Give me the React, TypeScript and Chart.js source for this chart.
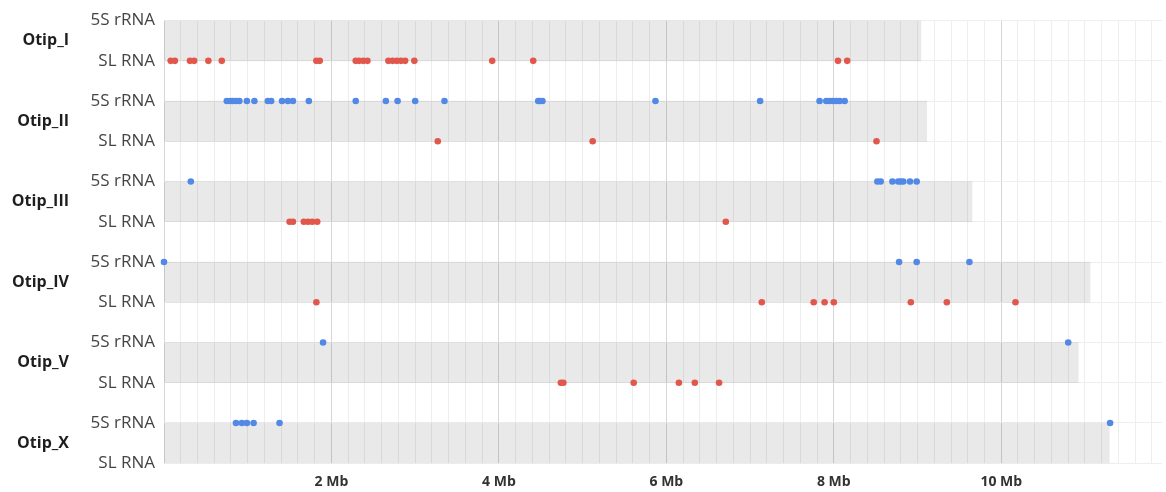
import React, { useEffect, useRef } from 'react';
import { Chart, registerables } from 'chart.js';

Chart.register(...registerables);

// ---- Data (positions in Mb) ----
const chromosomes = ['Otip_I', 'Otip_II', 'Otip_III', 'Otip_IV', 'Otip_V', 'Otip_X'];
const chromosomeLengthsMb = [9.04, 9.11, 9.65, 11.06, 10.92, 11.29];
const rowLabels = ['5S rRNA', 'SL RNA'];

const otipI_5S: number[] = [];
const otipI_SL = [0.08, 0.13, 0.31, 0.36, 0.53, 0.69, 1.82, 1.86, 2.29, 2.33, 2.38, 2.43, 2.68, 2.73, 2.78, 2.83, 2.88, 2.99, 3.92, 4.41, 8.05, 8.16];
const otipII_5S = [0.75, 0.79, 0.82, 0.86, 0.9, 0.99, 1.08, 1.24, 1.28, 1.41, 1.48, 1.54, 1.73, 2.29, 2.65, 2.79, 3.0, 3.35, 4.47, 4.49, 4.52, 5.87, 7.12, 7.83, 7.91, 7.95, 7.99, 8.03, 8.07, 8.13];
const otipII_SL = [3.27, 5.12, 8.51];
const otipIII_5S = [0.32, 8.52, 8.56, 8.7, 8.77, 8.8, 8.83, 8.91, 8.99];
const otipIII_SL = [1.5, 1.54, 1.67, 1.72, 1.77, 1.83, 6.71];
const otipIV_5S = [0.0, 8.78, 8.99, 9.62];
const otipIV_SL = [1.82, 7.14, 7.76, 7.89, 8.0, 8.92, 9.35, 10.17];
const otipV_5S = [1.9, 10.8];
const otipV_SL = [4.74, 4.77, 5.61, 6.15, 6.34, 6.63];
const otipX_5S = [0.86, 0.93, 0.99, 1.07, 1.38, 11.3];
const otipX_SL: number[] = [];

const sites5S = [otipI_5S, otipII_5S, otipIII_5S, otipIV_5S, otipV_5S, otipX_5S];
const sitesSL = [otipI_SL, otipII_SL, otipIII_SL, otipIV_SL, otipV_SL, otipX_SL];

const xMaxMb = 11.92;
const xMinorStepCount = 60; // gridlines every 0.2 Mb up to 11.8
const majorTicksMb = [2, 4, 6, 8, 10];
const xTickLabels = ['2 Mb', '4 Mb', '6 Mb', '8 Mb', '10 Mb'];

const FONT = "'Open Sans', 'DejaVu Sans', sans-serif";

export default function App() {
  const ref = useRef<HTMLCanvasElement | null>(null);

  useEffect(() => {
    if (!ref.current) return;
    const rowCount = chromosomes.length * 2;

    const bandData = chromosomeLengthsMb.map((len, i) => ({ x: [0, len], y: 2 * i + 0.5 }));
    const data5S = sites5S.flatMap((arr, i) => arr.map((v) => ({ x: v, y: 2 * i })));
    const dataSL = sitesSL.flatMap((arr, i) => arr.map((v) => ({ x: v, y: 2 * i + 1 })));

    const isMajor = (v: number) => Math.abs(v / 2 - Math.round(v / 2)) < 1e-6;

    const chart = new Chart(ref.current, {
      type: 'scatter',
      data: {
        datasets: [
          {
            type: 'bar',
            label: 'chromosome',
            indexAxis: 'y',
            data: bandData as any,
            backgroundColor: 'rgba(0,0,0,0.088)',
            borderWidth: 0,
            categoryPercentage: 1,
            barPercentage: 1,
            order: 3,
            xAxisID: 'x',
            yAxisID: 'y',
          } as any,
          {
            type: 'scatter',
            label: '5S rRNA',
            data: data5S,
            backgroundColor: '#5289e6',
            borderWidth: 0,
            pointRadius: 3.3,
            clip: false,
            order: 1,
            xAxisID: 'x',
            yAxisID: 'y',
          } as any,
          {
            type: 'scatter',
            label: 'SL RNA',
            data: dataSL,
            backgroundColor: '#e2574c',
            borderWidth: 0,
            pointRadius: 3.3,
            clip: false,
            order: 2,
            xAxisID: 'x',
            yAxisID: 'y',
          } as any,
        ],
      },
      options: {
        animation: false,
        responsive: false,
        devicePixelRatio: 1,
        layout: { padding: { top: 16, bottom: 0, right: 1, left: 0 } },
        plugins: { legend: { display: false }, tooltip: { enabled: false } },
        scales: {
          x: {
            type: 'linear',
            min: 0,
            max: xMaxMb,
            offset: false,
            afterBuildTicks: (scale: any) => {
              scale.ticks = Array.from({ length: xMinorStepCount }, (_, i) => ({ value: i / 5 }));
            },
            grid: {
              offset: false,
              color: (ctx: any) => (ctx.tick && isMajor(ctx.tick.value) ? '#d6d6d6' : '#eeeeee'),
              tickColor: 'rgba(0,0,0,0)',
              tickLength: 8,
              lineWidth: 1,
            },
            border: { display: false },
            ticks: {
              autoSkip: false,
              maxRotation: 0,
              padding: 2,
              color: '#333333',
              font: { family: FONT, size: 14, weight: 'bold' },
              callback: (value: any) => {
                const idx = majorTicksMb.findIndex((m) => Math.abs(m - Number(value)) < 1e-6);
                return idx >= 0 ? xTickLabels[idx] : '';
              },
            },
          },
          y: {
            type: 'linear',
            position: 'left',
            reverse: true,
            min: 0,
            max: rowCount - 1,
            offset: false,
            weight: 0,
            afterBuildTicks: (scale: any) => {
              scale.ticks = Array.from({ length: rowCount }, (_, i) => ({ value: i }));
            },
            afterFit: (scale: any) => {
              scale.width = 84;
            },
            grid: { offset: false, color: '#eeeeee', drawTicks: false },
            border: { display: false },
            ticks: {
              autoSkip: false,
              padding: 9,
              color: '#444444',
              font: { family: FONT, size: 17 },
              callback: (value: any) => rowLabels[Math.round(Number(value)) % 2],
            },
          },
          y2: {
            type: 'linear',
            position: 'left',
            reverse: true,
            min: 0,
            max: rowCount - 1,
            offset: false,
            weight: 10,
            afterBuildTicks: (scale: any) => {
              scale.ticks = chromosomes.map((_, i) => ({ value: 2 * i + 0.5 }));
            },
            afterFit: (scale: any) => {
              scale.width = 80;
            },
            grid: { display: false, drawTicks: false, offset: false },
            border: { display: false },
            ticks: {
              autoSkip: false,
              padding: 11,
              color: '#1e1e1e',
              font: { family: FONT, size: 16, weight: 'bold' },
              callback: (value: any) => chromosomes[Math.round((Number(value) - 0.5) / 2)],
            },
          },
        },
      } as any,
    });

    return () => chart.destroy();
  }, []);

  return (
    <div style={{ position: 'fixed', left: 0, top: 0, width: 1166, height: 492, background: '#ffffff' }}>
      <canvas ref={ref} width={1166} height={492} style={{ display: 'block' }} />
    </div>
  );
}
